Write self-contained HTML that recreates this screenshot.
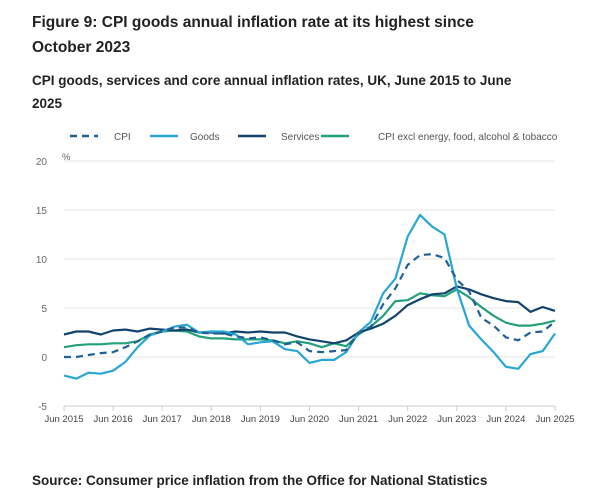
<!DOCTYPE html>
<html><head><meta charset="utf-8">
<style>
body{margin:0;background:#fff;font-family:"Liberation Sans",sans-serif;color:#222;}
.wrap{position:relative;width:600px;height:501px;overflow:hidden;}
h1{position:absolute;left:32px;top:10px;margin:0;font-size:15.5px;line-height:25px;font-weight:bold;width:470px;}
h2{position:absolute;left:32px;top:69px;margin:0;font-size:13.5px;line-height:23px;font-weight:bold;width:500px;}
.src{position:absolute;left:32px;top:473px;font-size:13.5px;font-weight:bold;}
svg{position:absolute;left:0;top:0;}
</style></head><body>
<div class="wrap">
<h1>Figure 9: CPI goods annual inflation rate at its highest since October 2023</h1>
<h2>CPI goods, services and core annual inflation rates, UK, June 2015 to June 2025</h2>
<svg id="chart" width="600" height="501"></svg>
<div class="src">Source: Consumer price inflation from the Office for National Statistics</div>
</div>
<script>
const quarters = [2015.5,2015.75,2016,2016.25,2016.5,2016.75,2017,2017.25,2017.5,2017.75,2018,2018.25,2018.5,2018.75,2019,2019.25,2019.5,2019.75,2020,2020.25,2020.5,2020.75,2021,2021.25,2021.5,2021.75,2022,2022.25,2022.5,2022.75,2023,2023.25,2023.5,2023.75,2024,2024.25,2024.5,2024.75,2025,2025.25,2025.5];
const cpi = [0.0,0.0,0.2,0.4,0.5,1.0,1.6,2.3,2.6,3.0,3.0,2.5,2.4,2.4,2.1,1.9,2.0,1.7,1.3,1.5,0.6,0.5,0.6,0.7,2.5,3.1,5.4,7.0,9.4,10.4,10.5,10.1,7.9,6.7,4.0,3.2,2.0,1.7,2.5,2.6,3.6];
const goods = [-1.9,-2.2,-1.6,-1.7,-1.4,-0.5,1.0,2.2,2.6,3.1,3.3,2.5,2.6,2.6,2.3,1.3,1.5,1.6,0.8,0.6,-0.6,-0.3,-0.3,0.5,2.5,3.6,6.5,8.0,12.3,14.5,13.3,12.5,7.0,3.2,1.8,0.5,-1.0,-1.2,0.3,0.6,2.4];
const services = [2.3,2.6,2.6,2.3,2.7,2.8,2.6,2.9,2.8,2.7,2.8,2.5,2.5,2.4,2.6,2.5,2.6,2.5,2.5,2.1,1.8,1.6,1.4,1.7,2.5,2.9,3.4,4.2,5.3,5.9,6.4,6.5,7.2,6.9,6.4,6.0,5.7,5.6,4.6,5.1,4.7];
const core = [1.0,1.2,1.3,1.3,1.4,1.4,1.6,2.3,2.6,2.7,2.6,2.1,1.9,1.9,1.8,1.8,1.8,1.7,1.4,1.6,1.4,1.0,1.4,1.1,2.3,3.1,4.2,5.7,5.8,6.5,6.3,6.2,6.9,6.1,5.1,4.2,3.5,3.2,3.2,3.4,3.7];
const yTicks = [-5,0,5,10,15,20];
const xTickYears = [2015.5,2016.5,2017.5,2018.5,2019.5,2020.5,2021.5,2022.5,2023.5,2024.5,2025.5];
const xTickLabels = ["Jun 2015","Jun 2016","Jun 2017","Jun 2018","Jun 2019","Jun 2020","Jun 2021","Jun 2022","Jun 2023","Jun 2024","Jun 2025"];

const NS="http://www.w3.org/2000/svg";
const svg=document.getElementById('chart');
const x0=64,x1=555,yTop=161,yBot=406;
function xs(t){return x0+(t-2015.5)/(10)*(x1-x0);}
function ys(v){return yBot-(v+5)/25*(yBot-yTop);}
function mk(tag,attrs){const e=document.createElementNS(NS,tag);for(const k in attrs)e.setAttribute(k,attrs[k]);svg.appendChild(e);return e;}

yTicks.forEach(v=>{
  const g=mk('line',{x1:x0,x2:x1,y1:ys(v),y2:ys(v),stroke:'#e6e6e6','stroke-width':1});
  
  
  const t=mk('text',{x:47,y:ys(v)+4,'font-size':10,fill:'#666','text-anchor':'end','font-family':'Liberation Sans, sans-serif'});
  t.textContent=v;
  
  
});
const pct=mk('text',{x:62,y:160,'font-size':9.5,fill:'#666','font-family':'Liberation Sans, sans-serif'});
pct.textContent='%';


const ax=mk('line',{x1:x0,x2:x1,y1:yBot,y2:yBot,stroke:'#ccc'});


xTickYears.forEach((t,i)=>{
  const l=mk('line',{x1:xs(t),x2:xs(t),y1:yBot,y2:yBot+5,stroke:'#ccc'});
  
  
  const tx=mk('text',{x:xs(t),y:yBot+16,'font-size':9.5,fill:'#444','text-anchor':'middle','font-family':'Liberation Sans, sans-serif'});
  tx.textContent=xTickLabels[i];
  
  
});
function series(vals,color,dash,name){
  const d=vals.map((v,i)=>(i?'L':'M')+xs(quarters[i]).toFixed(1)+','+ys(v).toFixed(1)).join('');
  const p=mk('path',{d:d,fill:'none',stroke:color,'stroke-width':2.2,'stroke-linejoin':'round'});
  if(dash)p.setAttribute('stroke-dasharray','7,5');
  
  
}
series(core,'#22a079',false,'core-line');
series(services,'#12436d',false,'services-line');
series(goods,'#28a6d6',false,'goods-line');
series(cpi,'#206095',true,'cpi-line');

const legend=[['CPI','#206095',true,70,114],['Goods','#28a6d6',false,150,190],['Services','#12436d',false,238,281],['CPI excl energy, food, alcohol & tobacco','#22a079',false,321,378]];
legend.forEach(([lab,c,d,lx,tx0])=>{
  const l=mk('line',{x1:lx,x2:lx+28,y1:136,y2:136,stroke:c,'stroke-width':2.5});
  if(d)l.setAttribute('stroke-dasharray','7,5');
  
  
  const t=mk('text',{x:tx0,y:140,'font-size':10,fill:'#555','font-family':'Liberation Sans, sans-serif'});
  t.textContent=lab;
  
  
});
</script>
</body></html>
